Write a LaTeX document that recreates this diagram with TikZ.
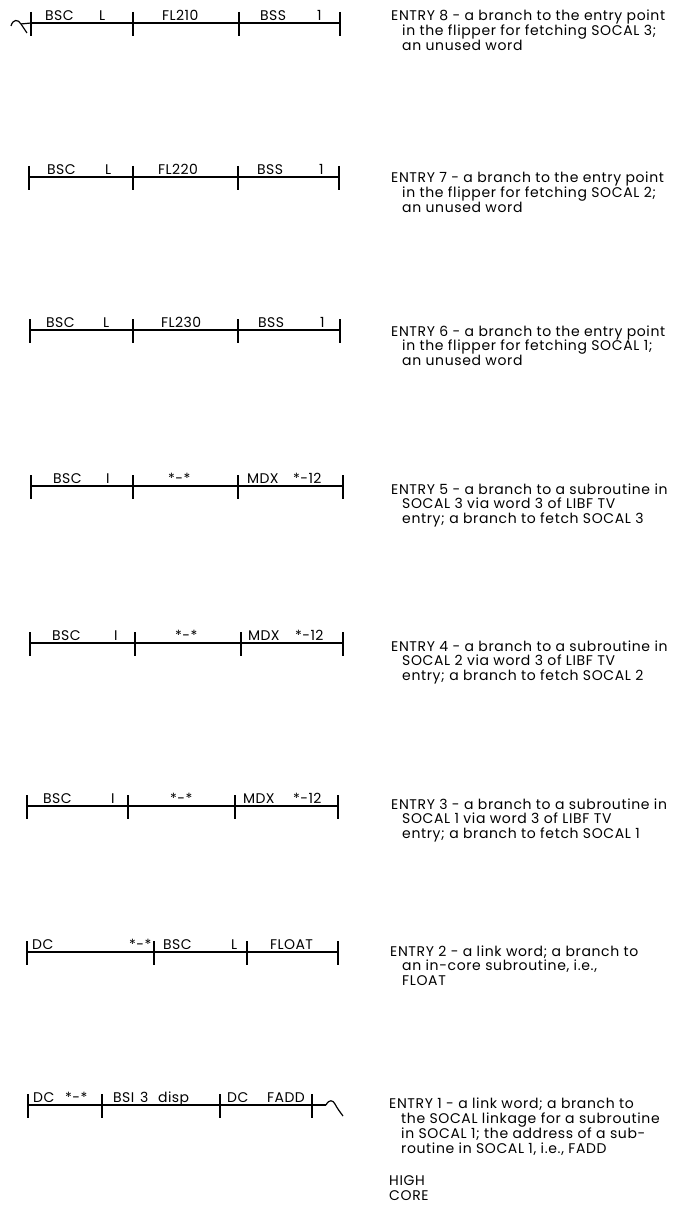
\documentclass[tikz,border=0pt]{standalone}
\usepackage{fontspec}
\newfontfamily\popc[LetterSpace=3]{Poppins}
\newfontfamily\popd[LetterSpace=4.5]{Poppins}
\newcommand{\cellfnt}{\popc\fontsize{14}{16}\selectfont}
\newcommand{\descfnt}{\popd\fontsize{14}{15}\selectfont}
\begin{document}
\begin{tikzpicture}[x=1pt,y=-1pt,
  wire/.style={line width=1.2pt},
  tickmark/.style={line width=2pt},
  cell/.style={font=\cellfnt, anchor=base west, inner sep=0pt},
  desc/.style={font=\descfnt, anchor=base west, inner sep=0pt}]
\useasboundingbox[fill=white] (0,0) rectangle (685,1222);

% word rows: ticks and horizontal lines
\foreach \r/\y/\a/\b/\c/\d in {8/23/31/133/239/340, 7/177/29/133/238/339,
   6/330/30/133/238/340, 5/486/31/133/238/343, 4/643/30/135/241/343,
   3/806/27/128/235/338, 2/952/27/154/247/338, 1/1105/28/102/220/312}{
  \coordinate (r\r a) at (\a,\y);
  \coordinate (r\r b) at (\b,\y);
  \coordinate (r\r c) at (\c,\y);
  \coordinate (r\r d) at (\d,\y);
  \draw[wire] (r\r a) -- (r\r d);
  \foreach \t in {a,b,c,d}{
    \draw[tickmark] ([yshift=11pt]r\r\t) -- ([yshift=-13pt]r\r\t);
  }
}

% break marks
\coordinate (brkL) at (21,24);
\draw[wire] (r8a) -- (brkL);
\draw[wire] (11,26) .. controls (13,19) and (18,19) .. (brkL) .. controls (23,27) and (25,30) .. (27,33);
\coordinate (brkR) at (326,1105);
\draw[wire] (r1d) -- (brkR);
\draw[wire] (brkR) .. controls (329,1099) and (333,1100) .. (335,1104) .. controls (337,1108) and (340,1112) .. (343,1116);

% cell texts
\node[cell] (t8a) at (45,20.5) {BSC};   \node[cell] (t8b) at (99,20.5) {L};
\node[cell] (t8c) at (162,20.5) {FL210}; \node[cell] (t8d) at (260,20.5) {BSS};
\node[cell] (t8e) at (317,20.5) {1};

\node[cell] (t7a) at (47,174.5) {BSC};   \node[cell] (t7b) at (105,174.5) {L};
\node[cell] (t7c) at (158,174.5) {FL220}; \node[cell] (t7d) at (257,174.5) {BSS};
\node[cell] (t7e) at (319,174.5) {1};

\node[cell] (t6a) at (46,327.5) {BSC};   \node[cell] (t6b) at (103,327.5) {L};
\node[cell] (t6c) at (161,327.5) {FL230}; \node[cell] (t6d) at (258,327.5) {BSS};
\node[cell] (t6e) at (320,327.5) {1};

\node[cell] (t5a) at (53,483.5) {BSC};   \node[cell] (t5b) at (106,483.5) {I};
\node[cell] (t5c) at (168,483.5) {*-*};  \node[cell] (t5d) at (247,483.5) {MDX};
\node[cell] (t5e) at (293,483.5) {*-12};

\node[cell] (t4a) at (52,640.5) {BSC};   \node[cell] (t4b) at (114,640.5) {I};
\node[cell] (t4c) at (175,640.5) {*-*};  \node[cell] (t4d) at (248,640.5) {MDX};
\node[cell] (t4e) at (295,640.5) {*-12};

\node[cell] (t3a) at (43,803.5) {BSC};   \node[cell] (t3b) at (111,803.5) {I};
\node[cell] (t3c) at (170,803.5) {*-*};  \node[cell] (t3d) at (243,803.5) {MDX};
\node[cell] (t3e) at (293,803.5) {*-12};

\node[cell] (t2a) at (32,949.5) {DC};    \node[cell] (t2b) at (129,949.5) {*-*};
\node[cell] (t2c) at (163,949.5) {BSC};  \node[cell] (t2d) at (231,949.5) {L};
\node[cell] (t2e) at (270,949.5) {FLOAT};

\node[cell] (t1a) at (33,1102.5) {DC};   \node[cell] (t1b) at (65,1102.5) {*-*};
\node[cell] (t1c) at (113,1102.5) {BSI}; \node[cell] (t1d) at (140,1102.5) {3};
\node[cell] (t1e) at (158,1102.5) {disp}; \node[cell] (t1f) at (227,1102.5) {DC};
\node[cell] (t1g) at (267,1102.5) {FADD};

% descriptions
\node[desc] (e8) at (391,21) {ENTRY 8 - a branch to the entry point};
\node[desc] (e8b) at (402,35.8) {in the flipper for fetching SOCAL 3;};
\node[desc] (e8c) at (402,50.6) {an unused word};

\node[desc] (e7) at (391,183) {ENTRY 7 - a branch to the entry point};
\node[desc] (e7b) at (402,197.8) {in the flipper for fetching SOCAL 2;};
\node[desc] (e7c) at (402,212.6) {an unused word};

\node[desc] (e6) at (391,336) {ENTRY 6 - a branch to the entry point};
\node[desc] (e6b) at (402,350.8) {in the flipper for fetching SOCAL 1;};
\node[desc] (e6c) at (402,365.6) {an unused word};

\node[desc] (e5) at (391,494) {ENTRY 5 - a branch to a subroutine in};
\node[desc] (e5b) at (402,508.8) {SOCAL 3 via word 3 of LIBF TV};
\node[desc] (e5c) at (402,523.6) {entry; a branch to fetch SOCAL 3};

\node[desc] (e4) at (391,651) {ENTRY 4 - a branch to a subroutine in};
\node[desc] (e4b) at (402,665.8) {SOCAL 2 via word 3 of LIBF TV};
\node[desc] (e4c) at (402,680.6) {entry; a branch to fetch SOCAL 2};

\node[desc] (e3) at (391,809) {ENTRY 3 - a branch to a subroutine in};
\node[desc] (e3b) at (402,823.8) {SOCAL 1 via word 3 of LIBF TV};
\node[desc] (e3c) at (402,838.6) {entry; a branch to fetch SOCAL 1};

\node[desc] (e2) at (390,956) {ENTRY 2 - a link word; a branch to};
\node[desc] (e2b) at (402,970.8) {an in-core subroutine, i.e.,};
\node[desc] (e2c) at (402,985.6) {FLOAT};

\node[desc] (e1) at (389,1108) {ENTRY 1 - a link word; a branch to};
\node[desc] (e1b) at (401,1123) {the SOCAL linkage for a subroutine};
\node[desc] (e1c) at (401,1138) {in SOCAL 1; the address of a sub-};
\node[desc] (e1d) at (401,1153) {routine in SOCAL 1, i.e., FADD};

\node[desc] (hi) at (389,1185) {HIGH};
\node[desc] (co) at (389,1200) {CORE};
\end{tikzpicture}
\end{document}
